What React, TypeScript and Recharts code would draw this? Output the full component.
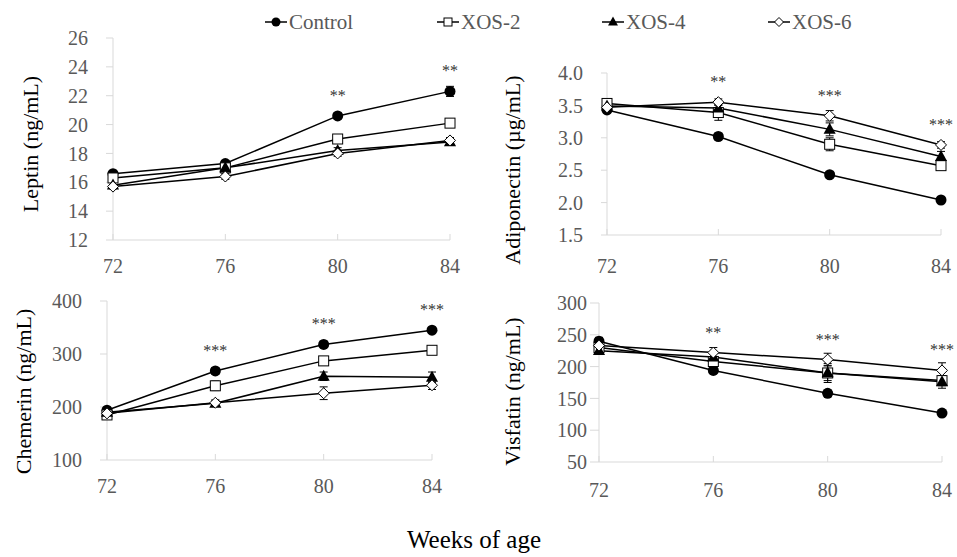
import React from "react";
import { LineChart, Line, XAxis, YAxis, ErrorBar, LabelList } from "recharts";

const FONT =
  "'Liberation Serif', 'Times New Roman', Times, Tinos, 'Nimbus Roman', 'Noto Serif', 'DejaVu Serif', FreeSerif, serif";
const AXIS = "#d9d9d9";
const TICK = "#595959";

const weeks = [72, 76, 80, 84];

// Leptin (ng/mL)
const leptinControl = [16.6, 17.3, 20.6, 22.3];
const leptinXos2 = [16.3, 17.0, 19.0, 20.1];
const leptinXos4 = [15.8, 17.0, 18.2, 18.8];
const leptinXos6 = [15.7, 16.4, 18.0, 18.9];
const leptinErr = [
  [0.2, 0.2, 0.2, 0.35],
  [0.2, 0.2, 0.3, 0.25],
  [0.2, 0.2, 0.2, 0.2],
  [0.15, 0.2, 0.2, 0.2],
];
const leptinSig = ["", "", "**", "**"];
const leptinTicks = [12, 14, 16, 18, 20, 22, 24, 26];

// Adiponectin (µg/mL)
const adipoControl = [3.43, 3.02, 2.43, 2.04];
const adipoXos2 = [3.53, 3.39, 2.9, 2.57];
const adipoXos4 = [3.49, 3.46, 3.13, 2.71];
const adipoXos6 = [3.47, 3.55, 3.34, 2.89];
const adipoErr = [
  [0.03, 0.05, 0.04, 0.03],
  [0.05, 0.12, 0.1, 0.06],
  [0.05, 0.06, 0.1, 0.08],
  [0.04, 0.05, 0.08, 0.05],
];
const adipoSig = ["", "**", "***", "***"];
const adipoTicks = [1.5, 2.0, 2.5, 3.0, 3.5, 4.0];

// Chemerin (ng/mL)
const chemControl = [194, 268, 318, 345];
const chemXos2 = [185, 240, 287, 307];
const chemXos4 = [190, 207, 258, 256];
const chemXos6 = [188, 208, 226, 241];
const chemErr = [
  [5, 6, 6, 5],
  [5, 9, 8, 7],
  [6, 6, 8, 10],
  [5, 5, 12, 8],
];
const chemSig = ["", "***", "***", "***"];
const chemTicks = [100, 200, 300, 400];

// Visfatin (ng/mL)
const visControl = [240, 194, 158, 127];
const visXos2 = [230, 208, 190, 178];
const visXos4 = [225, 215, 190, 176];
const visXos6 = [233, 222, 211, 194];
const visErr = [
  [6, 5, 5, 4],
  [6, 7, 15, 8],
  [6, 8, 12, 10],
  [6, 8, 10, 12],
];
const visSig = ["", "**", "***", "***"];
const visTicks = [50, 100, 150, 200, 250, 300];

type Kind = "circle" | "square" | "triangle" | "diamond";

const series: { key: string; name: string; kind: Kind }[] = [
  { key: "control", name: "Control", kind: "circle" },
  { key: "xos2", name: "XOS-2", kind: "square" },
  { key: "xos4", name: "XOS-4", kind: "triangle" },
  { key: "xos6", name: "XOS-6", kind: "diamond" },
];

function marker(kind: Kind, cx: number, cy: number, s: number, key?: string) {
  if (cx == null || cy == null) return <g key={key} />;
  switch (kind) {
    case "circle":
      return <circle key={key} cx={cx} cy={cy} r={s} fill="#000" />;
    case "square":
      return (
        <rect key={key} x={cx - s + 0.5} y={cy - s + 0.5} width={2 * s - 1} height={2 * s - 1}
          fill="#fff" stroke="#000" strokeWidth={1} />
      );
    case "triangle":
      return (
        <polygon key={key}
          points={`${cx},${cy - s * 1.2} ${cx - s * 1.1},${cy + s * 0.8} ${cx + s * 1.1},${cy + s * 0.8}`}
          fill="#000" />
      );
    default:
      return (
        <polygon key={key}
          points={`${cx},${cy - s} ${cx + s},${cy} ${cx},${cy + s} ${cx - s},${cy}`}
          fill="#fff" stroke="#000" strokeWidth={1} />
      );
  }
}

type PanelProps = {
  title: string;
  values: number[][];
  errors: number[][];
  sig: string[];
  yTicks: number[];
  fmt?: (v: number) => string;
  left: number;
  top: number;
  width: number;
  height: number;
  mTop: number;
  mRight: number;
  yWidth: number;
  yTickSize: number;
  yTickMargin: number;
  xHeight: number;
  xTickMargin: number;
  titleX: number;
  titleDy: number;
};

function Panel(p: PanelProps) {
  const rows = weeks.map((w, i) => {
    const row: Record<string, number | string> = {
      week: w,
      sig: p.sig[i],
      top: Math.max(...p.values.map((v) => v[i])),
    };
    series.forEach((s, j) => {
      row[s.key] = p.values[j][i];
      row[s.key + "Err"] = p.errors[j][i];
    });
    return row;
  });

  return (
    <div style={{ position: "absolute", left: p.left, top: p.top }}>
      <LineChart
        width={p.width}
        height={p.height}
        data={rows}
        margin={{ top: p.mTop, right: p.mRight, left: 0, bottom: 0 }}
        style={{ overflow: "visible", fontFamily: FONT }}
      >
        <XAxis
          dataKey="week"
          type="number"
          domain={[72, 84]}
          ticks={weeks}
          interval={0}
          height={p.xHeight}
          stroke={AXIS}
          tickSize={-6}
          tickMargin={p.xTickMargin}
          tick={{ fill: TICK, fontSize: 20, fontFamily: FONT }}
        />
        <YAxis
          type="number"
          domain={[p.yTicks[0], p.yTicks[p.yTicks.length - 1]]}
          ticks={p.yTicks}
          interval={0}
          width={p.yWidth}
          stroke={AXIS}
          tickSize={p.yTickSize}
          tickMargin={p.yTickMargin}
          tickFormatter={p.fmt}
          tick={{ fill: TICK, fontSize: 20, fontFamily: FONT }}
          label={(lp: any) => {
            const vb = lp.viewBox || { y: 0, height: 0 };
            return (
              <text
                transform={`translate(${p.titleX},${vb.y + vb.height / 2 + p.titleDy}) rotate(-90)`}
                textAnchor="middle"
                dominantBaseline="central"
                fontSize={22}
                fill="#000"
                style={{ fontFamily: FONT }}
              >
                {p.title}
              </text>
            );
          }}
        />
        {series.map((s) => (
          <Line
            key={s.key}
            dataKey={s.key}
            type="linear"
            stroke="#000"
            strokeWidth={1.5}
            isAnimationActive={false}
            activeDot={false}
            dot={(d: any) => marker(s.kind, d.cx, d.cy, 5.5, `${s.key}-${d.index}`)}
          >
            <ErrorBar dataKey={s.key + "Err"} direction="y" width={4} stroke="#000" strokeWidth={1} />
          </Line>
        ))}
        <Line
          dataKey="top"
          stroke="none"
          dot={false}
          activeDot={false}
          isAnimationActive={false}
          legendType="none"
        >
          <LabelList
            dataKey="sig"
            content={(lp: any) =>
              lp.value ? (
                <text x={lp.x} y={lp.y - 15} textAnchor="middle" fontSize={16} fill="#333"
                  style={{ fontFamily: FONT }}>
                  {lp.value}
                </text>
              ) : null
            }
          />
        </Line>
      </LineChart>
    </div>
  );
}

const legendPos = [265, 437, 602, 768];

function Overlay() {
  return (
    <svg width={957} height={557} style={{ position: "absolute", left: 0, top: 0, pointerEvents: "none", fontFamily: FONT }}>
      {series.map((s, i) => {
        const x = legendPos[i];
        return (
          <g key={s.key}>
            <line x1={x} x2={x + 22} y1={22} y2={22} stroke="#000" strokeWidth={1.5} />
            {marker(s.kind, x + 11, 22, 4.5)}
            <text x={x + 24} y={29} fontSize={21} fill={TICK}>
              {s.name}
            </text>
          </g>
        );
      })}
      <text x={474} y={548} textAnchor="middle" fontSize={25} fill="#000">
        Weeks of age
      </text>
    </svg>
  );
}

export default function App() {
  return (
    <div
      style={{
        position: "absolute",
        left: 0,
        top: 0,
        width: 957,
        height: 557,
        background: "#fff",
        fontFamily: FONT,
      }}
    >
      <Overlay />
      <Panel
        title="Leptin (ng/mL)"
        values={[leptinControl, leptinXos2, leptinXos4, leptinXos6]}
        errors={leptinErr}
        sig={leptinSig}
        yTicks={leptinTicks}
        left={0} top={0} width={480} height={300}
        mTop={38} mRight={30} yWidth={113} yTickSize={7} yTickMargin={18}
        xHeight={60} xTickMargin={25} titleX={30} titleDy={5}
      />
      <Panel
        title="Adiponectin (µg/mL)"
        values={[adipoControl, adipoXos2, adipoXos4, adipoXos6]}
        errors={adipoErr}
        sig={adipoSig}
        yTicks={adipoTicks}
        fmt={(v) => v.toFixed(1)}
        left={490} top={0} width={467} height={300}
        mTop={73} mRight={16} yWidth={117} yTickSize={6} yTickMargin={18}
        xHeight={65} xTickMargin={30} titleX={22} titleDy={16}
      />
      <Panel
        title="Chemerin (ng/mL)"
        values={[chemControl, chemXos2, chemXos4, chemXos6]}
        errors={chemErr}
        sig={chemSig}
        yTicks={chemTicks}
        left={0} top={280} width={480} height={220}
        mTop={21} mRight={48} yWidth={107} yTickSize={7} yTickMargin={18}
        xHeight={40} xTickMargin={25} titleX={23} titleDy={11}
      />
      <Panel
        title="Visfatin (ng/mL)"
        values={[visControl, visXos2, visXos4, visXos6]}
        errors={visErr}
        sig={visSig}
        yTicks={visTicks}
        left={490} top={280} width={467} height={220}
        mTop={23} mRight={15} yWidth={109} yTickSize={9} yTickMargin={3}
        xHeight={38} xTickMargin={27} titleX={22} titleDy={9}
      />
    </div>
  );
}
